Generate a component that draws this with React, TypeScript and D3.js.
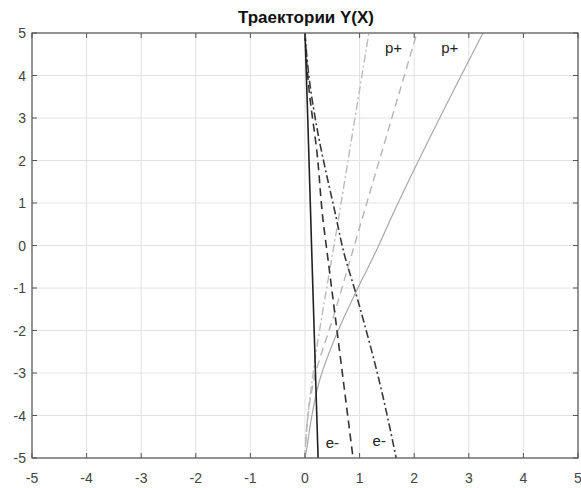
import React from "react";
import * as d3 from "d3";

// Axis ticks
const xTicks = [-5, -4, -3, -2, -1, 0, 1, 2, 3, 4, 5];
const yTicks = [-5, -4, -3, -2, -1, 0, 1, 2, 3, 4, 5];

// Electron trajectories (start at top, drift right going down)
const eSolid: [number, number][] = [[0, 5], [0.05, 3], [0.12, 0], [0.24, -5]];
const eDashed: [number, number][] = [
  [0, 5], [0.02, 4.5], [0.08, 3.6], [0.22, 2.18], [0.33, 0.6], [0.4, -0.11], [0.88, -5],
];
const eDashDot: [number, number][] = [
  [0, 5], [0.03, 4.5], [0.1, 3.7], [0.2, 2.9], [0.58, 0.6], [0.7, -0.11], [0.93, -1.12], [1.37, -3.24], [1.67, -5],
];

// Proton trajectories (start at bottom, drift right going up)
const pSolid: [number, number][] = [
  [0, -5], [0.03, -4.8], [0.1, -4.2], [0.24, -3.3], [0.61, -1.99], [0.95, -1.05], [1.31, -0.11], [1.56, 0.6], [3.26, 5],
];
const pDashed: [number, number][] = [
  [0, -5], [0.02, -4.5], [0.07, -3.85], [0.15, -3.24], [0.52, -1.68], [1.04, 0.6], [2.05, 5],
];
const pDashDot: [number, number][] = [
  [0, -5], [0.02, -4.5], [0.07, -3.8], [0.15, -3.0], [0.61, 0.6], [1.17, 5],
];

const series = [
  { pts: pSolid, color: "#a8a8a8", width: 1.2, dash: "" },
  { pts: pDashed, color: "#b4b4b4", width: 1.4, dash: "8,5" },
  { pts: pDashDot, color: "#bbbbbb", width: 1.4, dash: "8,3,2,3" },
  { pts: eDashed, color: "#333333", width: 1.6, dash: "8,5" },
  { pts: eDashDot, color: "#3a3a3a", width: 1.6, dash: "8,3,2,3" },
  { pts: eSolid, color: "#222222", width: 1.6, dash: "" },
];

const labels = [
  { text: "p+", x: 1.62, y: 4.53 },
  { text: "p+", x: 2.65, y: 4.53 },
  { text: "e-", x: 0.5, y: -4.76 },
  { text: "e-", x: 1.36, y: -4.72 },
];

export default function App() {
  const W = 581;
  const H = 488;
  const left = 32, right = 578, top = 33, bottom = 458;
  const x = d3.scaleLinear().domain([-5, 5]).range([left, right]);
  const y = d3.scaleLinear().domain([-5, 5]).range([bottom, top]);
  const line = d3.line<[number, number]>().x((d) => x(d[0])).y((d) => y(d[1])).curve(d3.curveMonotoneY);
  const font = "'Liberation Sans', Arial, sans-serif";
  const tickLen = 5;

  return (
    <svg width={W} height={H} style={{ position: "absolute", left: 0, top: 0, background: "#fff" }}>
      <rect x={0} y={0} width={W} height={H} fill="#fff" />
      {/* grid */}
      {xTicks.map((t) => (
        <line key={"gx" + t} x1={x(t)} x2={x(t)} y1={top} y2={bottom} stroke="#e2e2e2" strokeWidth={1} />
      ))}
      {yTicks.map((t) => (
        <line key={"gy" + t} x1={left} x2={right} y1={y(t)} y2={y(t)} stroke="#e2e2e2" strokeWidth={1} />
      ))}
      {/* trajectories */}
      {series.map((s, i) => (
        <path key={"s" + i} d={line(s.pts) || ""} fill="none" stroke={s.color} strokeWidth={s.width} strokeDasharray={s.dash} />
      ))}
      {/* box and inward ticks */}
      <rect x={left} y={top} width={right - left} height={bottom - top} fill="none" stroke="#555" strokeWidth={1.2} />
      {xTicks.map((t) => (
        <g key={"tx" + t}>
          <line x1={x(t)} x2={x(t)} y1={bottom} y2={bottom - tickLen} stroke="#555" />
          <line x1={x(t)} x2={x(t)} y1={top} y2={top + tickLen} stroke="#555" />
          <text x={x(t)} y={483} textAnchor="middle" fontFamily={font} fontSize={14} fill="#444">{t}</text>
        </g>
      ))}
      {yTicks.map((t) => (
        <g key={"ty" + t}>
          <line x1={left} x2={left + tickLen} y1={y(t)} y2={y(t)} stroke="#555" />
          <line x1={right} x2={right - tickLen} y1={y(t)} y2={y(t)} stroke="#555" />
          <text x={26} y={y(t) + 5} textAnchor="end" fontFamily={font} fontSize={14} fill="#444">{t}</text>
        </g>
      ))}
      {/* labels */}
      {labels.map((l, i) => (
        <text key={"l" + i} x={x(l.x)} y={y(l.y)} textAnchor="middle" fontFamily={font} fontSize={15} fill="#222">{l.text}</text>
      ))}
      <text x={306} y={23} textAnchor="middle" fontFamily={font} fontSize={17} fontWeight="bold" fill="#111">
        Траектории Y(X)
      </text>
    </svg>
  );
}
